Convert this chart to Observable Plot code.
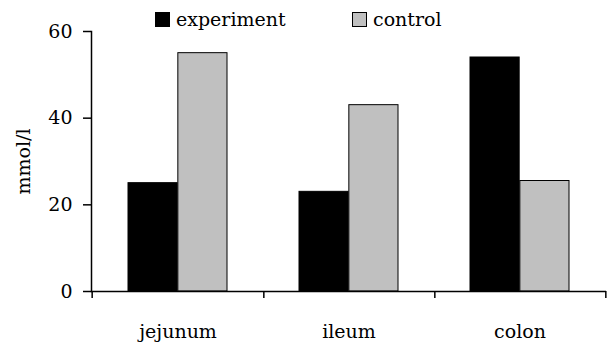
<!DOCTYPE html>
<html>
<head>
<meta charset="utf-8">
<script src="https://cdn.jsdelivr.net/npm/d3@7"></script>
<script src="https://cdn.jsdelivr.net/npm/@observablehq/plot@0.6"></script>
<style>
  body { margin: 0; background: #fff; font-family: "DejaVu Serif", serif; color: #000; }
  #legend { position: relative; width: 609px; height: 28px; font-size: 19px; }
  .item { position: absolute; top: 5px; height: 28px; display: flex; align-items: center; }
  .swatch { width: 15px; height: 15px; box-sizing: border-box; margin-right: 6px; }
  svg { overflow: visible; display: block; }
</style>
</head>
<body>
<div id="legend"></div>
<div id="chart"></div>
<script>
const categories = ["jejunum", "ileum", "colon"];
const series = ["experiment", "control"];
const experiment = [25, 23, 54];
const control = [55, 43, 25.5];
const yTicks = [0, 20, 40, 60];
const colors = ["#000000", "#c0c0c0"];
const yLabel = "mmol/l";

const data = categories.flatMap((c, i) => [
  {category: c, series: series[0], value: experiment[i]},
  {category: c, series: series[1], value: control[i]}
]);

// legend
const legend = document.getElementById("legend");
const legendLeft = [155, 352];
series.forEach((s, i) => {
  const item = document.createElement("div");
  item.className = "item";
  item.style.left = legendLeft[i] + "px";
  const sw = document.createElement("div");
  sw.className = "swatch";
  sw.style.background = colors[i];
  sw.style.border = "1.5px solid #000";
  const t = document.createElement("span");
  t.textContent = s;
  item.appendChild(sw);
  item.appendChild(t);
  legend.appendChild(item);
});

const half = (609 - 91 - 3) / categories.length / 2;
const outer = 36;

const plot = Plot.plot({
  width: 609,
  height: 318,
  marginLeft: 91,
  marginRight: 3,
  marginTop: 3,
  marginBottom: 55,
  style: {fontFamily: "DejaVu Serif", fontSize: "19px", color: "#000", background: "#fff", overflow: "visible"},
  x: {domain: categories, padding: 0, axis: null},
  y: {domain: [0, 60], axis: null},
  color: {domain: series, range: colors},
  marks: [
    Plot.barY(data.filter(d => d.series === series[0]), {
      x: "category", y: "value", fill: "series", stroke: "#000", strokeWidth: 1,
      insetLeft: outer, insetRight: half
    }),
    Plot.barY(data.filter(d => d.series === series[1]), {
      x: "category", y: "value", fill: "series", stroke: "#000", strokeWidth: 1,
      insetLeft: half, insetRight: outer
    }),
    Plot.ruleY([0], {strokeWidth: 1.5}),
    Plot.frame({anchor: "left", strokeWidth: 1.5}),
    Plot.axisY(yTicks, {tickSize: 8, tickPadding: 11, strokeWidth: 1.5, label: null}),
    Plot.axisX(categories, {tickSize: 7, tickFormat: () => "", dx: half, strokeWidth: 1.5, label: null}),
    Plot.axisX([categories[0]], {tickSize: 7, tickFormat: () => "", dx: -half, strokeWidth: 1.5, label: null}),
    Plot.axisX(categories, {tickSize: 0, tickPadding: 33, label: null}),
    Plot.text([yLabel], {frameAnchor: "left", textAnchor: "middle", dx: -68, rotate: -90, fontSize: 19})
  ]
});
document.getElementById("chart").appendChild(plot);
</script>
</body>
</html>
